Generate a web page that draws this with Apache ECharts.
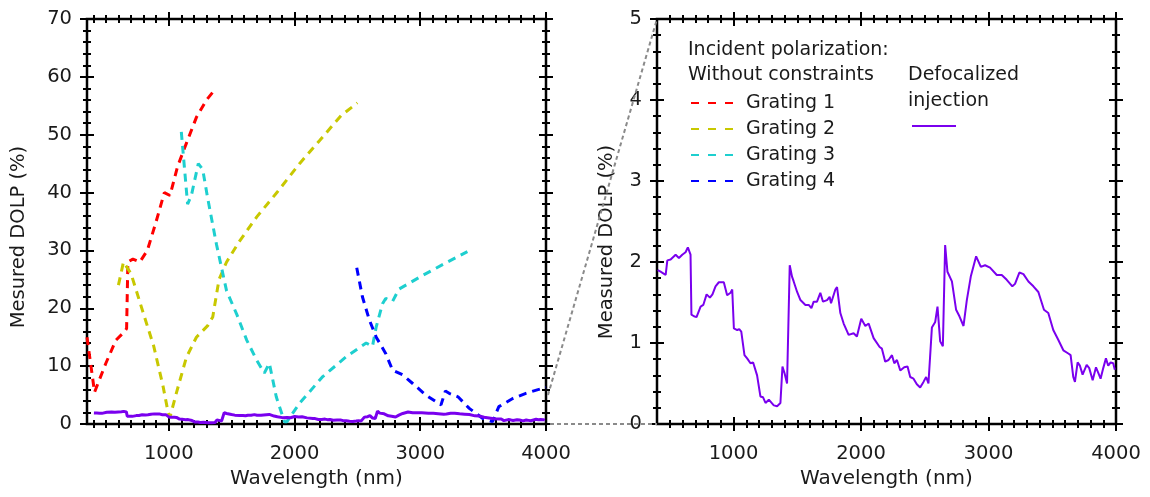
<!DOCTYPE html>
<html><head><meta charset="utf-8">
<script src="https://cdn.jsdelivr.net/npm/echarts@6/dist/echarts.min.js"></script>
<style>html,body{margin:0;padding:0;background:#fff}#c{width:1150px;height:497px}</style>
</head><body><div id="c"></div>
<script>
// ---------- data ----------
const grating1 = [[350,15],[410,5.5],[500,10.5],[580,14.5],[650,16],[665,16.5],[675,28],[715,28.5],[770,28],[830,30],[900,35],[965,40],[1010,39.5],[1070,44.5],[1140,48.5],[1220,53],[1300,56],[1375,58]];
const grating2 = [[600,24],[640,28],[700,26],[800,19],[880,13.5],[955,6.5],[995,2],[1010,1.2],[1060,5.3],[1140,11.5],[1220,15],[1310,17],[1350,18.5],[1400,25],[1460,28],[1560,31.5],[1700,35.8],[1860,40],[2040,45],[2200,49],[2370,53.3],[2500,55.5]];
const grating3 = [[1100,50.5],[1150,38],[1180,39.5],[1235,45],[1270,44],[1310,39],[1380,31],[1460,23],[1540,19],[1620,14.5],[1700,11],[1760,8.8],[1800,10.5],[1855,4.7],[1920,0.4],[1940,0.4],[2040,3.6],[2225,8.2],[2410,11.6],[2570,14],[2620,13.4],[2650,16.8],[2700,20.8],[2725,21.7],[2780,21.2],[2830,23.3],[3020,25.7],[3200,27.8],[3375,29.8]];
const grating4 = [[2495,27],[2540,22],[2595,18],[2650,15],[2725,12.2],[2780,9.3],[2860,8.5],[2940,7],[3045,5],[3165,3.3],[3200,5.7],[3230,5.3],[3300,4.7],[3390,2.7],[3495,1],[3575,0.4],[3625,3],[3735,4.4],[3840,5.3],[3930,5.9],[4000,6.3]];
const defocalized = [[405,1.9],[415,1.90],[428,1.88],[449,1.86],[468,1.84],[481,2.02],[507,2.03],[546,2.09],[572,2.05],[598,2.09],[624,2.12],[642,2.18],[663,2.09],[670,1.35],[690,1.33],[710,1.32],[742,1.45],[763,1.47],[789,1.60],[815,1.56],[835,1.60],[859,1.70],[885,1.75],[924,1.75],[950,1.59],[977,1.62],[990,1.66],[1003,1.18],[1029,1.16],[1045,1.17],[1061,1.14],[1086,0.85],[1107,0.81],[1133,0.75],[1154,0.76],[1185,0.60],[1211,0.34],[1232,0.33],[1251,0.26],[1277,0.30],[1316,0.23],[1342,0.22],[1368,0.26],[1384,0.71],[1400,0.63],[1420,0.50],[1441,1.96],[1459,1.82],[1472,1.76],[1499,1.63],[1525,1.53],[1564,1.47],[1590,1.47],[1611,1.43],[1629,1.51],[1655,1.51],[1681,1.62],[1702,1.51],[1734,1.53],[1754,1.57],[1765,1.49],[1799,1.66],[1812,1.69],[1838,1.37],[1864,1.24],[1903,1.10],[1942,1.12],[1968,1.08],[2002,1.30],[2034,1.21],[2060,1.24],[2099,1.06],[2146,0.95],[2164,0.93],[2190,0.77],[2216,0.79],[2243,0.85],[2261,0.75],[2282,0.79],[2308,0.66],[2339,0.70],[2365,0.71],[2386,0.58],[2412,0.56],[2438,0.49],[2464,0.45],[2490,0.52],[2511,0.58],[2529,0.50],[2556,1.19],[2582,1.26],[2600,1.45],[2621,1.02],[2642,0.96],[2660,2.21],[2678,1.88],[2713,1.76],[2746,1.41],[2772,1.33],[2804,1.21],[2830,1.53],[2861,1.82],[2903,2.07],[2940,1.94],[2973,1.96],[3012,1.93],[3065,1.84],[3104,1.84],[3143,1.78],[3187,1.70],[3208,1.73],[3242,1.87],[3274,1.85],[3313,1.76],[3352,1.70],[3391,1.63],[3435,1.41],[3469,1.37],[3508,1.16],[3547,1.04],[3587,0.91],[3626,0.87],[3644,0.85],[3665,0.58],[3678,0.52],[3699,0.76],[3717,0.72],[3738,0.61],[3770,0.73],[3790,0.69],[3817,0.54],[3843,0.70],[3861,0.63],[3879,0.56],[3900,0.69],[3921,0.81],[3939,0.72],[3958,0.76],[3978,0.75],[3991,0.67]];

// ---------- axes / ticks ----------
const leftX = [350, 4000], leftY = [0, 70];
const rightX = [400, 4000], rightY = [0, 5];
const xMajorTicks = [1000, 2000, 3000, 4000];
const xMinorTicksLeft = [400,500,600,700,800,900,1100,1200,1300,1400,1500,1600,1700,1800,1900,2100,2200,2300,2400,2500,2600,2700,2800,2900,3100,3200,3300,3400,3500,3600,3700,3800,3900];
const xMinorTicksRight = [500,600,700,800,900,1100,1200,1300,1400,1500,1600,1700,1800,1900,2100,2200,2300,2400,2500,2600,2700,2800,2900,3100,3200,3300,3400,3500,3600,3700,3800,3900];
const yMajorTicksLeft = [0,10,20,30,40,50,60,70];
const yMinorTicksLeft = [2,4,6,8,12,14,16,18,22,24,26,28,32,34,36,38,42,44,46,48,52,54,56,58,62,64,66,68];
const yMajorTicksRight = [0,1,2,3,4,5];
const yMinorTicksRight = [0.2,0.4,0.6,0.8,1.2,1.4,1.6,1.8,2.2,2.4,2.6,2.8,3.2,3.4,3.6,3.8,4.2,4.4,4.6,4.8];

const seriesNames = ['Grating 1','Grating 2','Grating 3','Grating 4','Defocalized injection'];
const seriesColors = ['#ff0000','#c8c800','#1ecfcf','#0000ff','#7a00ee'];
const legendTitle1 = 'Incident polarization:';
const legendTitle2 = 'Without constraints';
const legendTitle3 = 'Defocalized';
const legendTitle4 = 'injection';

const FONT = 'DejaVu Sans';
const TXT = '#1a1a1a';

function tickPair(gridIndex, pos, range, major, minor, label, name) {
  const base = {type:'value', gridIndex, position:pos, min:range[0], max:range[1],
    splitLine:{show:false}, axisLine:{show:false, onZero:false}, axisPointer:{show:false}};
  const maj = Object.assign({}, base, {
    offset:-7,
    axisTick:{show:true, inside:false, length:14, customValues:major, lineStyle:{color:'#000', width:2}},
    axisLabel: label ? Object.assign({show:true, customValues:major, fontFamily:FONT, fontSize:19.5, color:TXT,
        formatter:(v)=>String(v)}, label) : {show:false}
  });
  if (name) Object.assign(maj, name);
  const mnr = Object.assign({}, base, {
    offset:-4,
    axisTick:{show:true, inside:false, length:8, customValues:minor, lineStyle:{color:'#000', width:2}},
    axisLabel:{show:false}
  });
  return [maj, mnr];
}
const xName = {name:'Wavelength (nm)', nameLocation:'middle', nameGap:52, nameTextStyle:{fontFamily:FONT, fontSize:20, color:TXT}};

const xAxes = [
  ...tickPair(0,'bottom',leftX,xMajorTicks,xMinorTicksLeft,{margin:27},xName),
  ...tickPair(0,'top',leftX,xMajorTicks,xMinorTicksLeft,null),
  ...tickPair(1,'bottom',rightX,xMajorTicks,xMinorTicksRight,{margin:27},xName),
  ...tickPair(1,'top',rightX,xMajorTicks,xMinorTicksRight,null)
];
const yAxes = [
  ...tickPair(0,'left',leftY,yMajorTicksLeft,yMinorTicksLeft,{margin:22}),
  ...tickPair(0,'right',leftY,yMajorTicksLeft,yMinorTicksLeft,null),
  ...tickPair(1,'left',rightY,yMajorTicksRight,yMinorTicksRight,{margin:22}),
  ...tickPair(1,'right',rightY,yMajorTicksRight,yMinorTicksRight,null)
];

const gratings = [grating1, grating2, grating3, grating4];
const series = [];
series.push({name:seriesNames[4], type:'line', xAxisIndex:4, yAxisIndex:4, data:defocalized,
  symbol:'none', showSymbol:false, lineStyle:{color:seriesColors[4], width:2}, itemStyle:{color:seriesColors[4]}, z:3, animation:false});
gratings.forEach((g,i)=>{
  series.push({name:seriesNames[i], type:'line', xAxisIndex:0, yAxisIndex:0, data:g,
    symbol:'none', showSymbol:false, lineStyle:{color:seriesColors[i], width:3, type:[8,6]}, itemStyle:{color:seriesColors[i]}, z:3, animation:false});
});
series.push({name:seriesNames[4], type:'line', xAxisIndex:0, yAxisIndex:0, data:defocalized,
  symbol:'none', showSymbol:false, lineStyle:{color:seriesColors[4], width:3}, itemStyle:{color:seriesColors[4]}, z:4, animation:false});

const chart = echarts.init(document.getElementById('c'), null, {renderer:'canvas'});
const option = {
  animation:false,
  backgroundColor:'#fff',
  textStyle:{fontFamily:FONT},
  grid:[
    {left:87, right:604, top:19, bottom:73, show:true, borderColor:'#000', borderWidth:2.5, backgroundColor:'transparent'},
    {left:657, right:34, top:19, bottom:73, show:true, borderColor:'#000', borderWidth:2.5, backgroundColor:'transparent'}
  ],
  xAxis:xAxes,
  yAxis:yAxes,
  legend:[
    {data:seriesNames.slice(0,4), orient:'vertical', left:690, top:93, padding:0, itemWidth:42, itemHeight:14, itemGap:6,
     selectedMode:false, itemStyle:{opacity:0}, lineStyle:{type:[8,9]},
     textStyle:{fontFamily:FONT, fontSize:19, color:TXT, lineHeight:20, padding:[0,0,0,8]}},
    {data:[seriesNames[4]], orient:'vertical', left:911, top:119, padding:0, itemWidth:44, itemHeight:14, selectedMode:false,
     itemStyle:{opacity:0}, formatter:()=>'', lineStyle:{width:2}}
  ],
  series
};
chart.setOption(option);

const pTopL = chart.convertToPixel({xAxisIndex:0, yAxisIndex:0}, [leftX[1], rightY[1]]);
const pBotL = chart.convertToPixel({xAxisIndex:0, yAxisIndex:0}, [leftX[1], rightY[0]]);
const pTopR = chart.convertToPixel({xAxisIndex:4, yAxisIndex:4}, [rightX[0], rightY[1]]);
const pBotR = chart.convertToPixel({xAxisIndex:4, yAxisIndex:4}, [rightX[0], rightY[0]]);
const dashStyle = {stroke:'#8a8a8a', lineWidth:2, lineDash:[4,3]};
const txtStyle = (t)=>({text:t, font:'19px "DejaVu Sans"', fill:TXT, align:'left', verticalAlign:'middle'});
chart.setOption({
  graphic:[
    {type:'line', z:1, shape:{x1:pTopL[0]+2, y1:pTopL[1], x2:pTopR[0], y2:pTopR[1]}, style:dashStyle},
    {type:'line', z:1, shape:{x1:pBotL[0]+4, y1:pBotL[1], x2:pBotR[0], y2:pBotR[1]}, style:dashStyle},
    {type:'text', x:688, y:50, style:txtStyle(legendTitle1)},
    {type:'text', x:688, y:75, style:txtStyle(legendTitle2)},
    {type:'text', x:908, y:75, style:txtStyle(legendTitle3)},
    {type:'text', x:908, y:101, style:txtStyle(legendTitle4)},
    {type:'text', x:19, y:237, rotation:Math.PI/2, style:{text:'Mesured DOLP (%)', font:'19.5px "DejaVu Sans"', fill:TXT, align:'center', verticalAlign:'middle'}},
    {type:'text', x:607, y:242, rotation:Math.PI/2, style:{text:'Measured DOLP (%)', font:'19.5px "DejaVu Sans"', fill:TXT, align:'center', verticalAlign:'middle'}}
  ]
});
</script>
</body></html>
